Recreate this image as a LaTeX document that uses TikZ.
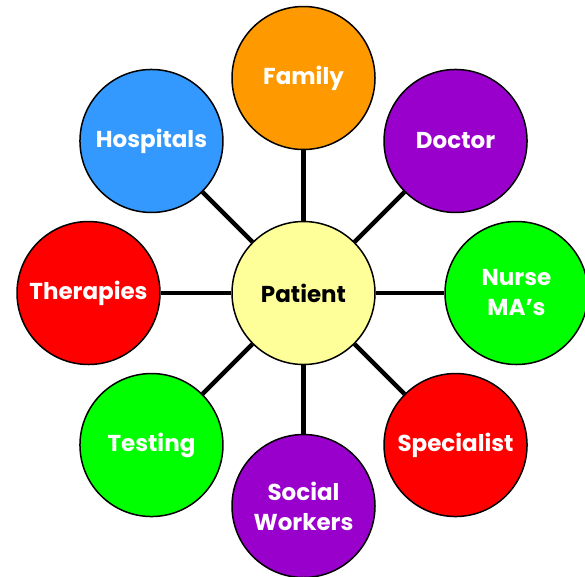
\documentclass[tikz,border=0pt]{standalone}
\usepackage{fontspec}
\setmainfont{Poppins}
\usetikzlibrary{positioning}

\definecolor{famOrange}{HTML}{FF9900}
\definecolor{docPurple}{HTML}{9900CC}
\definecolor{nurseGreen}{HTML}{00FF00}
\definecolor{specRed}{HTML}{FF0000}
\definecolor{hospBlue}{HTML}{3399FF}
\definecolor{patYellow}{HTML}{FFFF99}

\begin{document}
\begin{tikzpicture}[x=1pt, y=1pt,
	every node/.style={align=center, line width=1.5pt},
	hubVertex/.style={
		draw, shape=circle, fill=patYellow,
		minimum size=143pt, inner sep=0pt,
		font=\fontsize{23}{30}\selectfont\bfseries, text=black
	},
	spokeVertex/.style={
		draw, shape=circle,
		minimum size=143pt, inner sep=0pt,
		font=\fontsize{23}{30}\selectfont\bfseries, text=white
	},
	spoke/.style={line width=4.5pt}
]
	\useasboundingbox (0,0) rectangle (585,-576);

	% Hub and the circles round it
	\begin{scope}[shift={(303.5,-293)}]
		\node[hubVertex] (patient) at (0,0) {Patient};
		\node[spokeVertex, fill=famOrange] (family) at (90:215) {Family};
		\node[spokeVertex, fill=docPurple] (doctor) at (45:215) {Doctor};
		\node[spokeVertex, fill=nurseGreen] (nurse) at (0:213) {Nurse\\MA’s};
		\node[spokeVertex, fill=specRed] (specialist) at (-45:215) {Specialist};
		\node[spokeVertex, fill=docPurple] (social) at (-90:213) {Social\\Workers};
		\node[spokeVertex, fill=nurseGreen] (testing) at (-135:215) {Testing};
		\node[spokeVertex, fill=specRed] (therapies) at (180:215) {Therapies};
		\node[spokeVertex, fill=hospBlue] (hospitals) at (135:215) {Hospitals};
	\end{scope}

	% Spokes
	\draw[spoke] (patient) -- (family);
	\draw[spoke] (patient) -- (doctor);
	\draw[spoke] (patient) -- (nurse);
	\draw[spoke] (patient) -- (specialist);
	\draw[spoke] (patient) -- (social);
	\draw[spoke] (patient) -- (testing);
	\draw[spoke] (patient) -- (therapies);
	\draw[spoke] (patient) -- (hospitals);
\end{tikzpicture}
\end{document}
